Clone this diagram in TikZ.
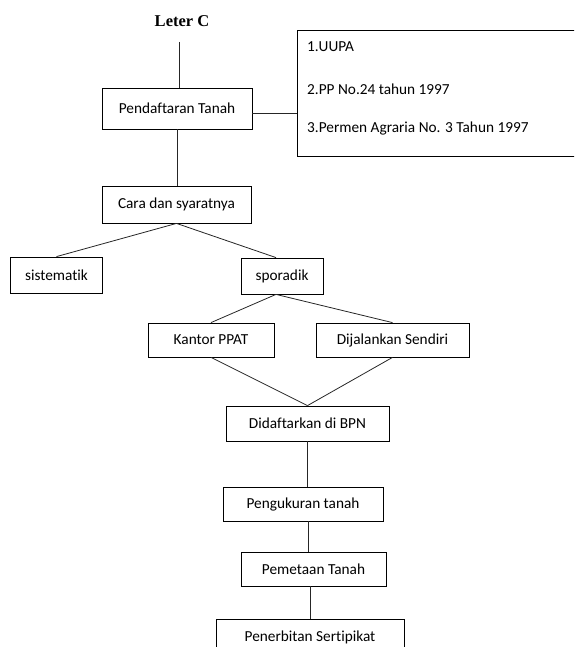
\documentclass[tikz,border=0pt]{standalone}
\usepackage{fontspec}
\setmainfont{Carlito}[Ligatures={NoCommon}]
\newfontfamily\titlefont{Liberation Serif}
\usetikzlibrary{positioning, calc}

\begin{document}
\begin{tikzpicture}[
  x=1pt, y=-1pt,
  stepbox/.style={
    rectangle, draw=black, line width=0.8pt, inner sep=0pt,
    font=\fontsize{15.3}{18}\selectfont, align=center
  },
  lawtext/.style={font=\fontsize{15.3}{18}\selectfont, inner sep=0pt, anchor=base west},
  link/.style={line width=0.8pt, color=black!85},
]
\clip (0,0) rectangle (574,647);

% Title
\node[font=\titlefont\bfseries\fontsize{16.5}{20}\selectfont] (leter) at (182,21) {Leter C};
\coordinate (leterfoot) at (179,42);

% Registration and legal basis
\node[stepbox, minimum width=150, minimum height=41] (pendaftaran) at (177,108.5) {Pendaftaran Tanah};
\node[draw, line width=0.8pt, anchor=north west, minimum width=300, minimum height=126, inner sep=0pt] (laws) at (297,30) {};
\node[lawtext] (uupa) at ($(laws.north west)+(10,22)$) {1.UUPA};
\node[lawtext] (pp) at ($(laws.north west)+(10,65)$) {2.PP No.24 tahun 1997};
\node[lawtext] (permen) at ($(laws.north west)+(10,103)$) {3.Permen Agraria No. 3 Tahun 1997};

% Ways
\node[stepbox, minimum width=149, minimum height=37] (cara) at (176.5,204.5) {Cara dan syaratnya};
\node[stepbox, minimum width=92, minimum height=36] (sistematik) at (56.5,275) {sistematik};
\node[stepbox, minimum width=82, minimum height=36] (sporadik) at (282,276) {sporadik};
\node[stepbox, minimum width=126, minimum height=34] (kantor) at (211,340) {Kantor PPAT};
\node[stepbox, minimum width=153, minimum height=34] (sendiri) at (392.5,340) {Dijalankan Sendiri};

% Procedure
\node[stepbox, minimum width=163, minimum height=35] (bpn) at (307.5,423.5) {Didaftarkan di BPN};
\node[stepbox, minimum width=160, minimum height=34] (ukur) at (303,504) {Pengukuran tanah};
\node[stepbox, minimum width=145, minimum height=34] (peta) at (313.5,569) {Pemetaan Tanah};
\node[stepbox, minimum width=188, minimum height=36] (sertipikat) at (310,637) {Penerbitan Sertipikat};

% Connectors
\coordinate (lawjoin) at ([yshift=-4.5pt]pendaftaran.east);
\coordinate (ukurfoot) at ([xshift=5pt]ukur.south);
\draw[link] (leterfoot) -- (leterfoot |- pendaftaran.north);
\draw[link] (lawjoin) -- (lawjoin -| laws.west);
\draw[link] (pendaftaran.south) -- (pendaftaran.south |- cara.north);
\draw[link] (cara.south) -- (sistematik.north);
\draw[link] (cara.south) -- ([xshift=-6pt]sporadik.north);
\draw[link] ([xshift=-6pt]sporadik.south) -- (kantor.north);
\draw[link] ([xshift=-6pt]sporadik.south) -- (sendiri.north);
\draw[link] (kantor.south) -- (bpn.north);
\draw[link] (sendiri.south) -- (bpn.north);
\draw[link] (bpn.south) -- (bpn.south |- ukur.north);
\draw[link] (ukurfoot) -- (ukurfoot |- peta.north);
\draw[link] (sertipikat.north |- peta.south) -- (sertipikat.north);
\end{tikzpicture}
\end{document}
